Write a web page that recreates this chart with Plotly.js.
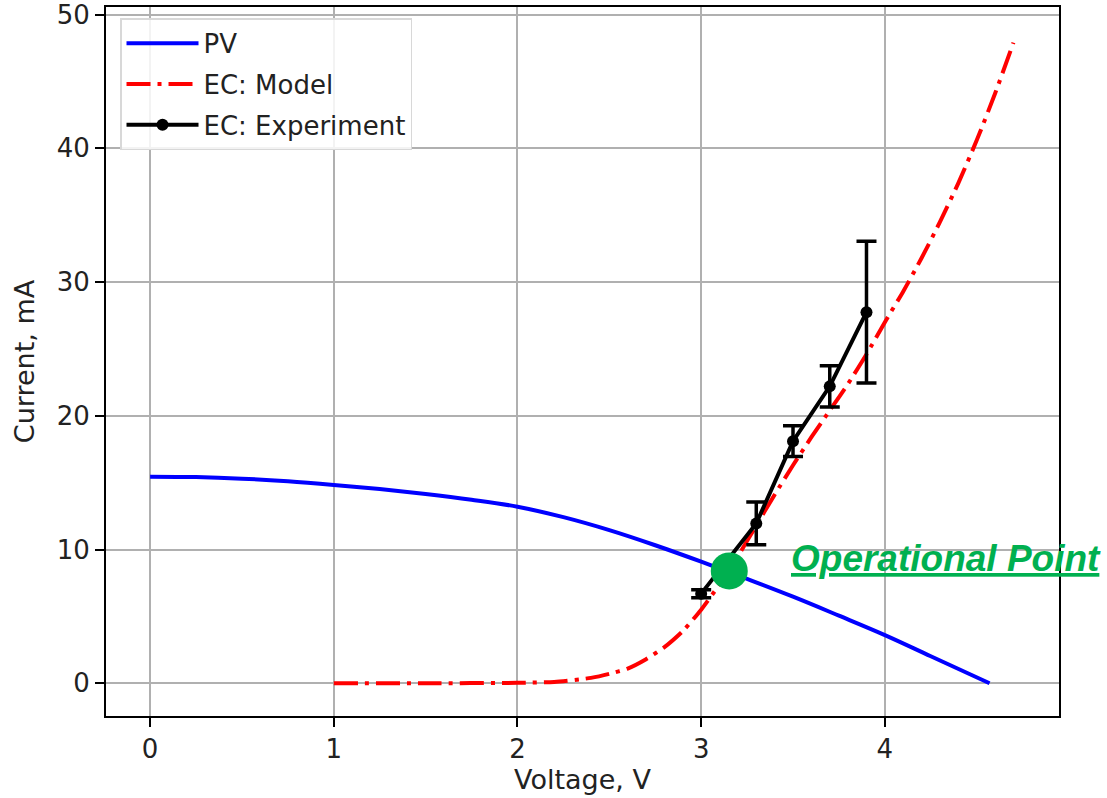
<!DOCTYPE html>
<html>
<head>
<meta charset="utf-8">
<script src="https://cdn.plot.ly/plotly-3.0.1.min.js"></script>
<style>html,body{margin:0;padding:0;background:#fff;}#chart{width:1107px;height:798px;}</style>
</head>
<body>
<div id="chart"></div>
<script>
// PV curve
const pvVoltage = [0, 0.25, 0.5, 0.75, 1.0, 1.25, 1.5, 1.75, 2.0, 2.25, 2.5, 2.75, 3.0, 3.25, 3.5, 3.75, 4.0, 4.25, 4.57];
const pvCurrent = [15.45, 15.42, 15.3, 15.1, 14.83, 14.52, 14.15, 13.72, 13.2, 12.42, 11.45, 10.32, 9.09, 7.8, 6.47, 5.05, 3.6, 2.02, 0];
// EC model
const ecModelVoltage = [1.0, 1.5, 2.0, 2.2, 2.4, 2.5, 2.6, 2.7, 2.8, 2.9, 3.0, 3.1, 3.2, 3.3, 3.4, 3.5, 3.6, 3.7, 3.8, 3.9, 4.0, 4.1, 4.2, 4.3, 4.4, 4.5, 4.6, 4.7];
const ecModelCurrent = [0, 0, 0.03, 0.1, 0.4, 0.7, 1.1, 1.8, 2.7, 3.9, 5.5, 7.4, 9.5, 11.8, 14.1, 16.3, 18.4, 20.4, 22.4, 24.6, 27.0, 29.3, 31.8, 34.5, 37.4, 40.6, 44.1, 47.9];
// EC experiment
const ecExpVoltage = [3.0, 3.3, 3.5, 3.7, 3.9];
const ecExpCurrent = [6.7, 11.95, 18.1, 22.2, 27.75];
const ecExpError = [0.3, 1.6, 1.15, 1.55, 5.3];
// Operational point
const opVoltage = [3.153];
const opCurrent = [8.4];
const opLabel = 'Operational Point';

const green = '#00B050';
const fontFam = 'DejaVu Sans, sans-serif';

const traces = [
  {x: pvVoltage, y: pvCurrent, mode: 'lines', name: 'PV', legendgroup: 'a',
   line: {color: '#0000ff', width: 4, shape: 'spline', smoothing: 1}},
  {x: ecModelVoltage, y: ecModelCurrent, mode: 'lines', name: 'EC: Model', legendgroup: 'b',
   line: {color: '#ff0000', width: 4, dash: '24px,7px,4px,7px', shape: 'spline', smoothing: 0.6}},
  {x: ecExpVoltage, y: ecExpCurrent, mode: 'lines+markers', name: 'EC: Experiment', legendgroup: 'c',
   line: {color: '#000000', width: 4}, marker: {color: '#000000', size: 12},
   error_y: {type: 'data', array: ecExpError, visible: true, color: '#000000', thickness: 3.5, width: 10}},
  {x: opVoltage, y: opCurrent, mode: 'markers', showlegend: false, marker: {color: green, size: 37}}
];

const axisCommon = {
  showgrid: true, gridcolor: '#b0b0b0', gridwidth: 2,
  showline: true, linecolor: '#000', linewidth: 2, mirror: true,
  ticks: 'outside', ticklen: 9, tickwidth: 2, tickcolor: '#000',
  zeroline: false, ticklabeloverflow: 'allow',
  tickfont: {family: fontFam, size: 26, color: '#222'},
};

const layout = {
  width: 1107, height: 798,
  margin: {l: 106, r: 48, t: 7, b: 82},
  paper_bgcolor: '#fff', plot_bgcolor: '#fff',
  showlegend: true,
  xaxis: Object.assign({}, axisCommon, {
    range: [-0.24, 4.948], tickvals: [0, 1, 2, 3, 4], ticktext: ['0', '1', '2', '3', '4'],
    title: {text: 'Voltage, V', font: {family: fontFam, size: 27, color: '#222'}, standoff: 6}
  }),
  yaxis: Object.assign({}, axisCommon, {
    range: [-2.45, 50.57], tickvals: [0, 10, 20, 30, 40, 50], ticktext: ['0', '10', '20', '30', '40', '50'],
    title: {text: 'Current, mA', font: {family: fontFam, size: 27, color: '#222'}, standoff: 14}
  }),
  legend: {
    x: 0.0147, y: 0.984, xanchor: 'left', yanchor: 'top',
    bgcolor: 'rgba(255,255,255,0.85)', bordercolor: '#d8d8d8', borderwidth: 1.5,
    itemwidth: 72, tracegroupgap: 4,
    font: {family: fontFam, size: 26, color: '#222'}
  },
  annotations: [{
    x: 3.48, y: 9.3, xref: 'x', yref: 'y', xanchor: 'left', yanchor: 'middle',
    text: opLabel, showarrow: false,
    font: {family: 'Liberation Sans, Arial, sans-serif', size: 37, color: green, weight: 'bold', style: 'italic', lineposition: 'under'}
  }]
};

Plotly.newPlot('chart', traces, layout, {displayModeBar: false, staticPlot: true});
</script>
</body>
</html>
